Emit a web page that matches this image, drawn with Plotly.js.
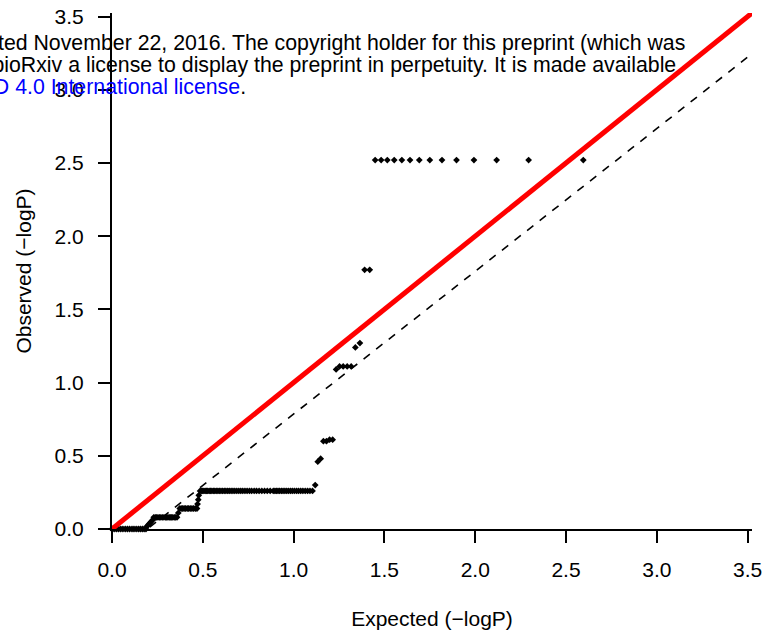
<!DOCTYPE html>
<html>
<head>
<meta charset="utf-8">
<script src="https://cdn.plot.ly/plotly-3.0.1.min.js"></script>
<style>
  html, body { margin: 0; padding: 0; background: #fff; }
  #qq { width: 777px; height: 637px; }
</style>
</head>
<body>
<div id="qq"></div>
<script>
// Q-Q plot of association P values: expected vs observed -log10(P), one entry per test
const expectedP = [
  2.595, 2.294, 2.118, 1.993, 1.897, 1.817, 1.750, 1.692, 1.641, 1.596, 1.554, 1.516, 1.482, 1.449,
  1.419, 1.391,
  1.365, 1.340,
  1.317, 1.295, 1.273, 1.253, 1.234,
  1.215, 1.198, 1.181, 1.164,
  1.149, 1.133,
  1.119,
  1.104, 1.090, 1.077, 1.064, 1.051, 1.039, 1.027, 1.016, 1.004, 0.993,
  0.983, 0.972, 0.962, 0.952, 0.942, 0.933, 0.923, 0.914, 0.905, 0.897,
  0.888, 0.871, 0.855, 0.840, 0.825, 0.810, 0.796, 0.783, 0.769, 0.757,
  0.744, 0.732, 0.720, 0.709, 0.698, 0.687, 0.676, 0.666, 0.656, 0.646,
  0.637, 0.627, 0.618, 0.609, 0.600, 0.591, 0.583, 0.574, 0.566, 0.558,
  0.550, 0.542, 0.535, 0.527, 0.520, 0.513, 0.506, 0.499, 0.492, 0.485,
  0.478, 0.475, 0.471,
  0.468, 0.459, 0.449, 0.440, 0.431, 0.422, 0.414, 0.405, 0.397, 0.389, 0.381, 0.373,
  0.365,
  0.358, 0.350, 0.343, 0.335, 0.328, 0.321, 0.315, 0.308, 0.301,
  0.295, 0.286, 0.277, 0.269, 0.261, 0.253, 0.245, 0.238, 0.230,
  0.223, 0.215, 0.208, 0.201, 0.194,
  0.187, 0.177, 0.167, 0.156, 0.145, 0.133, 0.121, 0.110, 0.097,
  0.085, 0.073, 0.060, 0.048, 0.036, 0.024, 0.012, 0.000
];
const observedP = [
  2.52, 2.52, 2.52, 2.52, 2.52, 2.52, 2.52, 2.52, 2.52, 2.52, 2.52, 2.52, 2.52, 2.52,
  1.77, 1.77,
  1.27, 1.24,
  1.11, 1.11, 1.11, 1.11, 1.09,
  0.61, 0.61, 0.60, 0.60,
  0.48, 0.46,
  0.30,
  0.26, 0.26, 0.26, 0.26, 0.26, 0.26, 0.26, 0.26, 0.26, 0.26,
  0.26, 0.26, 0.26, 0.26, 0.26, 0.26, 0.26, 0.26, 0.26, 0.26,
  0.26, 0.26, 0.26, 0.26, 0.26, 0.26, 0.26, 0.26, 0.26, 0.26,
  0.26, 0.26, 0.26, 0.26, 0.26, 0.26, 0.26, 0.26, 0.26, 0.26,
  0.26, 0.26, 0.26, 0.26, 0.26, 0.26, 0.26, 0.26, 0.26, 0.26,
  0.26, 0.26, 0.26, 0.26, 0.26, 0.26, 0.26, 0.26, 0.26, 0.26,
  0.23, 0.20, 0.17,
  0.14, 0.14, 0.14, 0.14, 0.14, 0.14, 0.14, 0.14, 0.14, 0.14, 0.14, 0.14,
  0.11,
  0.08, 0.08, 0.08, 0.08, 0.08, 0.08, 0.08, 0.08, 0.08,
  0.08, 0.08, 0.08, 0.08, 0.08, 0.08, 0.08, 0.08, 0.08,
  0.06, 0.05, 0.04, 0.03, 0.02,
  0, 0, 0, 0, 0, 0, 0, 0, 0,
  0, 0, 0, 0, 0, 0, 0, 0
];

const tickVals = [0, 0.5, 1, 1.5, 2, 2.5, 3, 3.5];
const tickText = ['0.0', '0.5', '1.0', '1.5', '2.0', '2.5', '3.0', '3.5'];

// reference lines y = a + b*x : null (identity) line and fitted trend
const lineIntercepts = [0, -0.19];
const lineSlopes = [1, 0.975];

const axisMax = 3.524;
const FONT = 'Liberation Sans, Arial, Helvetica, sans-serif';

function refLine(i) {
  const xs = [0, axisMax + 0.2];
  return xs.map(x => lineIntercepts[i] + lineSlopes[i] * x);
}

const traces = [
  {
    type: 'scatter', mode: 'markers',
    x: expectedP, y: observedP,
    marker: { symbol: 'diamond', size: 5.2, color: '#000', line: { width: 0 } },
    cliponaxis: false,
    hoverinfo: 'skip'
  },
  {
    type: 'scatter', mode: 'lines',
    x: [0, axisMax + 0.2], y: refLine(0),
    line: { color: '#ff0000', width: 5 },
    hoverinfo: 'skip'
  },
  {
    type: 'scatter', mode: 'lines',
    x: [0, axisMax + 0.2], y: refLine(1),
    line: { color: '#000', width: 1.6, dash: '8px,8px' },
    hoverinfo: 'skip'
  }
];

const axisCommon = {
  range: [0, axisMax],
  showline: true, linecolor: '#000', linewidth: 2,
  ticks: 'outside', ticklen: 12, tickwidth: 2, tickcolor: '#000',
  tickmode: 'array', tickvals: tickVals, ticktext: tickText,
  tickfont: { family: FONT, size: 21, color: '#000' },
  showgrid: false, zeroline: false, fixedrange: true
};

const watermark = { family: FONT, size: 21.3, color: '#000' };

const layout = {
  width: 777, height: 637,
  margin: { l: 112, r: 25, t: 13, b: 108 },
  paper_bgcolor: '#fff', plot_bgcolor: '#fff',
  showlegend: false,
  font: { family: FONT, size: 21, color: '#000' },
  xaxis: Object.assign({}, axisCommon, {
    ticklabelstandoff: 9,
    title: { text: 'Expected (\u2212logP)', font: { family: FONT, size: 21, color: '#000' }, standoff: 31 }
  }),
  yaxis: Object.assign({}, axisCommon, {
    ticklabelstandoff: 10,
    title: { text: 'Observed (\u2212logP)', font: { family: FONT, size: 21, color: '#000' }, standoff: 17 }
  }),
  annotations: [
    {
      xref: 'paper', yref: 'paper', x: 0.8992, y: 0.9419, xanchor: 'right', yanchor: 'middle',
      showarrow: false, font: watermark,
      text: 'this version posted November 22, 2016. The copyright holder for this preprint (which was'
    },
    {
      xref: 'paper', yref: 'paper', x: 0.885, y: 0.8992, xanchor: 'right', yanchor: 'middle',
      showarrow: false, font: watermark,
      text: 'who has granted bioRxiv a license to display the preprint in perpetuity. It is made available'
    },
    {
      xref: 'paper', yref: 'paper', x: 0.2125, y: 0.8566, xanchor: 'right', yanchor: 'middle',
      showarrow: false, font: watermark,
      text: 'under <span style="color:#0000ff">aCC-BY-NC-ND 4.0 International license</span>.'
    }
  ]
};

Plotly.newPlot('qq', traces, layout, { staticPlot: true, displayModeBar: false });
</script>
</body>
</html>
